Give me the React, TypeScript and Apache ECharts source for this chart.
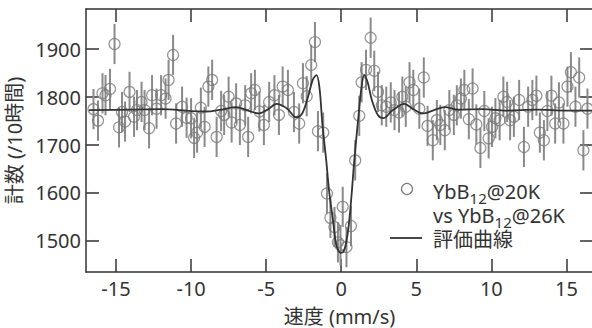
import React, { useEffect, useRef } from "react";
import * as echarts from "echarts";

const VELOCITY = [
  -16.5, -16.2, -15.9, -15.7, -15.4, -15.1, -14.8, -14.6, -14.4, -14.1, -13.8, -13.6, -13.3, -13.1,
  -12.8, -12.6, -12.3, -12.0, -11.7, -11.5, -11.2, -11.0, -10.6, -10.3, -10.0, -9.8, -9.6, -9.35,
  -9.1, -8.85, -8.6, -8.3, -8.0, -7.8, -7.5, -7.3, -7.0, -6.75, -6.4, -6.2, -6.0, -5.75, -5.45,
  -5.15, -4.8, -4.45, -4.15, -3.9, -3.55, -3.15, -2.8, -2.55, -2.3, -2.0, -1.75, -1.55, -1.2,
  -0.95, -0.72, -0.45, -0.22, -0.05, 0.1, 0.35, 0.65, 0.93, 1.2, 1.36, 1.65, 1.96, 2.2, 2.45, 2.7,
  3.0, 3.3, 3.55, 3.85, 4.07, 4.3, 4.55, 4.8, 5.2, 5.5, 5.75, 6.1, 6.37, 6.6, 6.9, 7.2, 7.5, 7.7,
  7.97, 8.2, 8.5, 8.75, 9.0, 9.27, 9.53, 9.82, 10.04, 10.27, 10.55, 10.8, 11.05, 11.25, 11.5,
  11.85, 12.17, 12.45, 12.73, 13.0, 13.23, 13.5, 13.73, 14.0, 14.25, 14.5, 14.8, 15.07, 15.3,
  15.6, 15.85, 16.13, 16.4,
];
const COUNTS = [
  1775, 1751, 1808, 1804, 1817, 1911, 1737, 1769, 1749, 1811, 1759, 1773, 1790, 1773,
  1735, 1804, 1776, 1804, 1797, 1836, 1888, 1745, 1780, 1757, 1756, 1715, 1726, 1778,
  1738, 1822, 1836, 1717, 1771, 1763, 1801, 1747, 1787, 1742, 1783, 1717, 1808, 1815, 1770,
  1742, 1790, 1804, 1763, 1822, 1815, 1769, 1745, 1829, 1802, 1867, 1915, 1729, 1726,
  1599, 1548, 1529, 1497, 1491, 1571, 1487, 1531, 1668, 1761, 1831, 1857, 1924, 1855, 1811, 1783,
  1780, 1789, 1773, 1768, 1801, 1780, 1831, 1815, 1776, 1841, 1740, 1710, 1752, 1742, 1731, 1773, 1763, 1783,
  1797, 1815, 1754, 1818, 1743, 1694, 1771, 1714, 1738, 1756, 1752, 1801, 1790, 1752, 1759,
  1794, 1696, 1780, 1794, 1803, 1726, 1710, 1771, 1803, 1745, 1789, 1745, 1822, 1852,
  1780, 1841, 1689, 1776,
];
const ERROR = 42;

const FIT_VELOCITY = [
  -16.8, -14, -12, -10, -9, -8, -7, -6.2, -5.5, -4.9, -4.3, -3.6, -3.0, -2.6, -2.2, -1.9, -1.65,
  -1.45, -1.25, -1.0, -0.8, -0.55, -0.36, -0.18, -0.03, 0.15, 0.32, 0.5, 0.7, 0.87, 1.15, 1.35,
  1.53, 1.75, 2.05, 2.45, 2.8, 3.4, 4.2, 4.8, 5.45, 6.1, 6.9, 7.8, 9.4, 11, 13, 15, 16.8,
];
const FIT_COUNTS = [
  1773, 1774, 1775, 1771, 1770, 1774, 1779, 1772, 1766, 1774, 1786, 1776, 1758, 1766, 1802, 1836, 1846,
  1820, 1742, 1668, 1602, 1543, 1497, 1479, 1475, 1477, 1495, 1532, 1600, 1668, 1761, 1820,
  1846, 1832, 1793, 1762, 1756, 1772, 1786, 1775, 1766, 1772, 1779, 1774, 1775, 1772, 1774, 1772, 1772,
];

const X_TICKS = [-15, -10, -5, 0, 5, 10, 15];
const Y_TICKS = [1500, 1600, 1700, 1800, 1900];

const FONT = "'Noto Sans', 'Noto Sans CJK JP', sans-serif";
const INK = "#333";

export default function App() {
  const ref = useRef<HTMLDivElement>(null);
  useEffect(() => {
    if (!ref.current) return;
    const chart = echarts.init(ref.current, null, { renderer: "svg" });
    const points = VELOCITY.map((v, i) => [v, COUNTS[i]]);
    const bars = VELOCITY.map((v, i) => [v, COUNTS[i], ERROR]);
    const fit = FIT_VELOCITY.map((v, i) => [v, FIT_COUNTS[i]]);
    const axisLine = { show: true, onZero: false, lineStyle: { color: INK, width: 1.5 } };
    const tick = (vals: number[]) => ({
      show: true,
      inside: true,
      length: 13,
      lineStyle: { color: INK, width: 1.5 },
      customValues: vals,
    });
    const xMin = -17, xMax = 16.77, yMin = 1435, yMax = 1984;
    const sub = {
      a: { fontSize: 20, fontFamily: FONT, fill: INK, lineHeight: 28, verticalAlign: "middle" },
      b: { fontSize: 15, fontFamily: FONT, fill: INK, lineHeight: 15, verticalAlign: "bottom" },
    };
    chart.setOption({
      animation: false,
      grid: { left: 86, right: -1, top: 9, bottom: 56, containLabel: false, outerBoundsMode: "none" },
      xAxis: [
        {
          type: "value", min: xMin, max: xMax, position: "bottom",
          axisLine, axisTick: tick(X_TICKS), splitLine: { show: false },
          axisLabel: { customValues: X_TICKS, color: INK, fontSize: 20, fontFamily: FONT, margin: 6 },
          name: "速度 (mm/s)", nameLocation: "middle", nameGap: 34,
          nameTextStyle: { color: INK, fontSize: 20, fontFamily: FONT },
        },
        {
          type: "value", min: xMin, max: xMax, position: "top",
          axisLine, axisTick: tick(X_TICKS), splitLine: { show: false },
          axisLabel: { show: false },
        },
      ],
      yAxis: [
        {
          type: "value", min: yMin, max: yMax, position: "left",
          axisLine, axisTick: tick(Y_TICKS), splitLine: { show: false },
          axisLabel: {
            customValues: Y_TICKS, color: INK, fontSize: 20, fontFamily: FONT, margin: 5,
            formatter: (v: number) => String(v),
          },
          name: "計数 (/10時間)", nameLocation: "middle", nameGap: 57,
          nameTextStyle: { color: INK, fontSize: 20, fontFamily: FONT },
        },
        {
          type: "value", min: yMin, max: yMax, position: "right",
          axisLine, axisTick: tick(Y_TICKS), splitLine: { show: false },
          axisLabel: { show: false },
        },
      ],
      series: [
        {
          type: "custom",
          data: bars,
          encode: { x: 0, y: 1 },
          renderItem: (params: any, api: any) => {
            const x = api.value(0), y = api.value(1), e = api.value(2);
            const p1 = api.coord([x, y - e]);
            const p2 = api.coord([x, y + e]);
            return {
              type: "line",
              shape: { x1: p1[0], y1: p1[1], x2: p2[0], y2: p2[1] },
              style: { stroke: "#8a8a8a", lineWidth: 2 },
            };
          },
          z: 1,
        },
        {
          type: "scatter",
          data: points,
          symbol: "circle",
          symbolSize: 11,
          itemStyle: { color: "rgba(0,0,0,0)", borderColor: "#7a7a7a", borderWidth: 1.2 },
          z: 2,
        },
        {
          type: "line",
          data: fit,
          smooth: 0.35,
          symbol: "none",
          lineStyle: { color: "#333", width: 1.8 },
          z: 3,
        },
      ],
      graphic: [
        { type: "circle", shape: { cx: 407, cy: 189, r: 5.5 }, style: { fill: "none", stroke: "#7a7a7a", lineWidth: 1.2 } },
        {
          type: "text", x: 433, y: 191,
          style: { text: "{a|YbB}{b|12}{a|@20K}", verticalAlign: "middle", rich: sub },
        },
        {
          type: "text", x: 433, y: 215,
          style: { text: "{a|vs YbB}{b|12}{a|@26K}", verticalAlign: "middle", rich: sub },
        },
        { type: "line", shape: { x1: 390, y1: 238, x2: 422, y2: 238 }, style: { stroke: "#333", lineWidth: 1.8 } },
        {
          type: "text", x: 433, y: 239,
          style: { text: "評価曲線", fontSize: 20, fontFamily: FONT, fill: INK, verticalAlign: "middle" },
        },
      ],
    });
    return () => chart.dispose();
  }, []);
  return <div ref={ref} style={{ width: 592, height: 328, position: "absolute", left: 0, top: 0 }} />;
}
